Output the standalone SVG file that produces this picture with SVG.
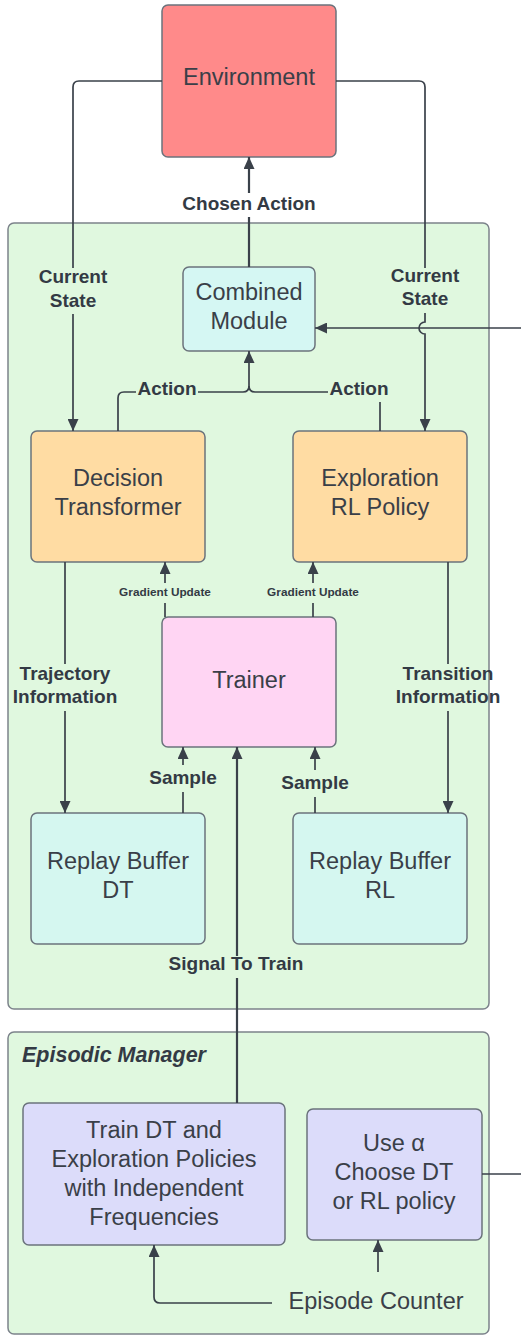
<svg xmlns="http://www.w3.org/2000/svg" width="521" height="1336" viewBox="0 0 521 1336">
  <style>
    .box { stroke: #6b737c; stroke-width: 1.5; }
    .container { fill: #e0f8df; stroke: #7c838b; stroke-width: 1.5; }
    .node-text { font-family: "Liberation Sans", Arial, sans-serif; font-size: 23.5px; fill: #3a3f48; text-anchor: middle; }
    .label { font-family: "Liberation Sans", Arial, sans-serif; font-size: 19px; font-weight: bold; fill: #333a44; text-anchor: middle; }
    .small-label { font-family: "Liberation Sans", Arial, sans-serif; font-size: 11.8px; font-weight: bold; fill: #333a44; text-anchor: middle; }
    .title { font-family: "Liberation Sans", Arial, sans-serif; font-size: 21.5px; font-weight: bold; font-style: italic; fill: #333a44; }
    .conn { fill: none; stroke: #3a414a; stroke-width: 1.7; }
    .conn-thick { fill: none; stroke: #3a414a; stroke-width: 2.2; }
  </style>
  <defs>
    <marker id="arrow" markerUnits="userSpaceOnUse" markerWidth="12" markerHeight="11" viewBox="0 0 12 11" refX="12" refY="5.5" orient="auto">
      <path d="M0,0 L12,5.5 L0,11 Z" fill="#3a414a"/>
    </marker>
  </defs>

  <!-- containers -->
  <g id="agent-container">
    <rect class="container" x="8" y="223" width="481" height="786" rx="6"/>
  </g>
  <g id="episodic-manager">
    <rect class="container" x="8" y="1032" width="481" height="302" rx="6"/>
    <text class="title" x="22" y="1062">Episodic Manager</text>
  </g>

  <!-- nodes -->
  <g id="environment">
    <rect class="box" x="162" y="5" width="174" height="152" rx="6" fill="#ff8a8a"/>
    <text class="node-text" x="249" y="85">Environment</text>
  </g>
  <g id="combined-module">
    <rect class="box" x="183" y="267" width="132" height="84" rx="6" fill="#d5f7f3"/>
    <text class="node-text" x="249" y="300">Combined</text>
    <text class="node-text" x="249" y="329">Module</text>
  </g>
  <g id="decision-transformer">
    <rect class="box" x="31" y="431" width="174" height="131" rx="6" fill="#ffdca3"/>
    <text class="node-text" x="118" y="486">Decision</text>
    <text class="node-text" x="118" y="515">Transformer</text>
  </g>
  <g id="exploration-policy">
    <rect class="box" x="293" y="431" width="174" height="131" rx="6" fill="#ffdca3"/>
    <text class="node-text" x="380" y="486">Exploration</text>
    <text class="node-text" x="380" y="515">RL Policy</text>
  </g>
  <g id="trainer">
    <rect class="box" x="162" y="617" width="174" height="130" rx="6" fill="#ffd5f3"/>
    <text class="node-text" x="249" y="688">Trainer</text>
  </g>
  <g id="replay-buffer-dt">
    <rect class="box" x="31" y="813" width="174" height="131" rx="6" fill="#d5f7f0"/>
    <text class="node-text" x="118" y="869">Replay Buffer</text>
    <text class="node-text" x="118" y="898">DT</text>
  </g>
  <g id="replay-buffer-rl">
    <rect class="box" x="293" y="813" width="174" height="131" rx="6" fill="#d5f7f0"/>
    <text class="node-text" x="380" y="869">Replay Buffer</text>
    <text class="node-text" x="380" y="898">RL</text>
  </g>
  <g id="train-schedule">
    <rect class="box" x="23" y="1103" width="262" height="142" rx="6" fill="#dcdcfa"/>
    <text class="node-text" x="154" y="1138">Train DT and</text>
    <text class="node-text" x="154" y="1167">Exploration Policies</text>
    <text class="node-text" x="154" y="1196">with Independent</text>
    <text class="node-text" x="154" y="1225">Frequencies</text>
  </g>
  <g id="policy-chooser">
    <rect class="box" x="307" y="1109" width="175" height="131" rx="6" fill="#dcdcfa"/>
    <text class="node-text" x="394" y="1151">Use α</text>
    <text class="node-text" x="394" y="1180">Choose DT</text>
    <text class="node-text" x="394" y="1209">or RL policy</text>
  </g>
  <g id="episode-counter">
    <text class="node-text" x="376" y="1309">Episode Counter</text>
  </g>

  <!-- connectors -->
  <g id="connectors">
    <!-- chosen action to environment -->
    <path class="conn-thick" d="M249,267 V217"/>
    <path class="conn-thick" d="M249,193 V157" marker-end="url(#arrow)"/>
    <!-- current state, left -->
    <path class="conn" d="M162,81 H79 Q73,81 73,87 V268"/>
    <path class="conn" d="M73,314 V431" marker-end="url(#arrow)"/>
    <!-- current state, right (hops over the incoming line) -->
    <path class="conn" d="M336,81 H419 Q425,81 425,87 V268"/>
    <path class="conn" d="M425,313 V322 A6,6 0 0 0 425,334 V431" marker-end="url(#arrow)"/>
    <!-- incoming line to combined module -->
    <path class="conn" d="M521,328 H315" marker-end="url(#arrow)"/>
    <!-- actions into combined module -->
    <path class="conn" d="M118,431 V398 Q118,392 124,392 H136"/>
    <path class="conn" d="M198,392 H243 Q249,392 249,386"/>
    <path class="conn" d="M328,392 H255 Q249,392 249,386"/>
    <path class="conn" d="M249,386 V351" marker-end="url(#arrow)"/>
    <path class="conn" d="M380,431 V402"/>
    <!-- gradient updates -->
    <path class="conn" d="M165,617 V603"/>
    <path class="conn" d="M165,583 V562" marker-end="url(#arrow)"/>
    <path class="conn" d="M313,617 V603"/>
    <path class="conn" d="M313,583 V562" marker-end="url(#arrow)"/>
    <!-- trajectory / transition information -->
    <path class="conn" d="M65,562 V664"/>
    <path class="conn" d="M65,711 V813" marker-end="url(#arrow)"/>
    <path class="conn" d="M448,562 V664"/>
    <path class="conn" d="M448,711 V813" marker-end="url(#arrow)"/>
    <!-- samples -->
    <path class="conn" d="M183,813 V792"/>
    <path class="conn" d="M183,765 V747" marker-end="url(#arrow)"/>
    <path class="conn" d="M315,813 V797"/>
    <path class="conn" d="M315,770 V747" marker-end="url(#arrow)"/>
    <!-- signal to train -->
    <path class="conn-thick" d="M237,1103 V978"/>
    <path class="conn-thick" d="M237,956 V747" marker-end="url(#arrow)"/>
    <!-- episode counter -->
    <path class="conn" d="M272,1303 H160 Q154,1303 154,1297 V1245" marker-end="url(#arrow)"/>
    <path class="conn" d="M378,1272 V1240" marker-end="url(#arrow)"/>
    <!-- chooser output -->
    <path class="conn" d="M482,1174 H521"/>
  </g>

  <!-- connector labels -->
  <g id="connector-labels">
    <text class="label" x="249" y="210">Chosen Action</text>
    <text class="label" x="73" y="283">Current</text>
    <text class="label" x="73" y="307">State</text>
    <text class="label" x="425" y="282">Current</text>
    <text class="label" x="425" y="305">State</text>
    <text class="label" x="167" y="395">Action</text>
    <text class="label" x="359" y="395">Action</text>
    <text class="small-label" x="165" y="596">Gradient Update</text>
    <text class="small-label" x="313" y="596">Gradient Update</text>
    <text class="label" x="65" y="680">Trajectory</text>
    <text class="label" x="65" y="703">Information</text>
    <text class="label" x="448" y="680">Transition</text>
    <text class="label" x="448" y="703">Information</text>
    <text class="label" x="183" y="784">Sample</text>
    <text class="label" x="315" y="789">Sample</text>
    <text class="label" x="236" y="970">Signal To Train</text>
  </g>
</svg>
